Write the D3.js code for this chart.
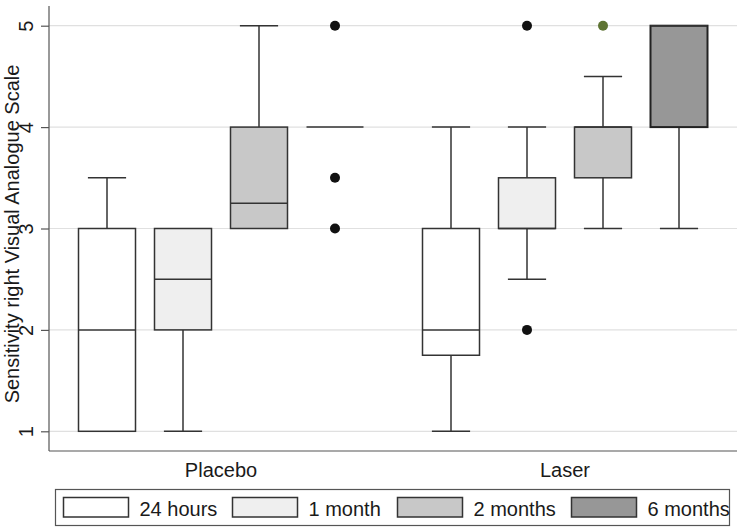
<!DOCTYPE html>
<html>
<head>
<meta charset="utf-8">
<script src="https://cdn.jsdelivr.net/npm/d3@7"></script>
<style>
  body { margin: 0; background: #fff; }
  text { font-family: Arial, "Liberation Sans", sans-serif; fill: #1a1a1a; }
</style>
</head>
<body>
<div id="chart"></div>
<script>
var groups = ["Placebo", "Laser"];
var times = ["24 hours", "1 month", "2 months", "6 months"];
var fills = ["#ffffff", "#efefef", "#c8c8c8", "#979797"];

// per group, per time: [lower whisker, q1, median, q3, upper whisker]
var placeboStats = [
  [1, 1, 2, 3, 3.5],
  [1, 2, 2.5, 3, 3],
  [3, 3, 3.25, 4, 5],
  [4, 4, 4, 4, 4]
];
var laserStats = [
  [1, 1.75, 2, 3, 4],
  [2.5, 3, 3, 3.5, 4],
  [3, 3.5, 4, 4, 4.5],
  [3, 4, 5, 5, 5]
];
var placeboOutliers = [[], [], [], [5, 3.5, 3]];
var laserOutliers = [[], [5, 2], [5], []];
var yTicks = [1, 2, 3, 4, 5];

var width = 737, height = 532;
var left = 49, right = 737, plotBottom = 451;
var fs = 20;

var svg = d3.select("#chart").append("svg")
    .attr("width", width)
    .attr("height", height);

var y = d3.scaleLinear().domain([1, 5]).range([431.3, 25.7]);
var xg = d3.scaleBand().domain(groups).range([left, right]);
var xt = d3.scaleBand().domain(times).range([-152, 152]).paddingInner(0.25).paddingOuter(0.125);

// gridlines
svg.append("g").selectAll("line")
    .data(yTicks)
  .enter().append("line")
    .attr("x1", left).attr("x2", right)
    .attr("y1", function(d) { return y(d); })
    .attr("y2", function(d) { return y(d); })
    .attr("stroke", "#e0e0e0")
    .attr("stroke-width", 1.2);

// y axis
var yAxis = svg.append("g")
    .attr("transform", "translate(" + left + ",0)")
    .call(d3.axisLeft(y).tickValues(yTicks).tickSize(8).tickFormat(d3.format("d")));
yAxis.select(".domain").remove();
yAxis.selectAll(".tick line").attr("stroke", "#555").attr("stroke-width", 1.2);
yAxis.selectAll(".tick text")
    .attr("font-size", fs)
    .attr("transform", "rotate(-90)")
    .attr("x", 0)
    .attr("y", -23)
    .attr("dy", "0.35em")
    .attr("text-anchor", "middle")
    .attr("font-family", "Arial, 'Liberation Sans', sans-serif")
    .attr("fill", "#1a1a1a");

svg.append("line")
    .attr("x1", left).attr("x2", left)
    .attr("y1", 6).attr("y2", plotBottom)
    .attr("stroke", "#555").attr("stroke-width", 1.2);
svg.append("line")
    .attr("x1", left).attr("x2", right)
    .attr("y1", plotBottom).attr("y2", plotBottom)
    .attr("stroke", "#555").attr("stroke-width", 1.2);

svg.append("text")
    .attr("transform", "translate(12,234)rotate(-90)")
    .attr("text-anchor", "middle")
    .attr("dy", "0.35em")
    .attr("font-size", fs)
    .text("Sensitivity right Visual Analogue Scale");

// boxes
var allStats = [placeboStats, laserStats];
var allOutliers = [placeboOutliers, laserOutliers];
var bw = xt.bandwidth();
var capW = bw * 0.67;

groups.forEach(function(g, gi) {
  var gc = xg(g) + xg.bandwidth() / 2;
  var gEl = svg.append("g");
  times.forEach(function(t, ti) {
    var s = allStats[gi][ti];
    var cx = gc + xt(t) + bw / 2;
    var b = gEl.append("g");
    var stroke = "#333";
    // whiskers
    if (s[4] > s[3]) {
      b.append("line").attr("x1", cx).attr("x2", cx).attr("y1", y(s[3])).attr("y2", y(s[4]))
        .attr("stroke", stroke).attr("stroke-width", 1.5);
    }
    if (s[0] < s[1]) {
      b.append("line").attr("x1", cx).attr("x2", cx).attr("y1", y(s[1])).attr("y2", y(s[0]))
        .attr("stroke", stroke).attr("stroke-width", 1.5);
    }
    if (s[4] > s[3]) {
      b.append("line").attr("x1", cx - capW / 2).attr("x2", cx + capW / 2)
        .attr("y1", y(s[4])).attr("y2", y(s[4]))
        .attr("stroke", stroke).attr("stroke-width", 1.5);
    }
    if (s[0] < s[1]) {
      b.append("line").attr("x1", cx - capW / 2).attr("x2", cx + capW / 2)
        .attr("y1", y(s[0])).attr("y2", y(s[0]))
        .attr("stroke", stroke).attr("stroke-width", 1.5);
    }
    if (s[3] > s[1]) {
      b.append("rect")
        .attr("x", cx - bw / 2).attr("width", bw)
        .attr("y", y(s[3])).attr("height", y(s[1]) - y(s[3]))
        .attr("fill", fills[ti])
        .attr("stroke", ti == 3 ? "#222" : stroke)
        .attr("stroke-width", ti == 3 ? 2 : 1.5);
    }
    b.append("line").attr("x1", cx - bw / 2).attr("x2", cx + bw / 2)
      .attr("y1", y(s[2])).attr("y2", y(s[2]))
      .attr("stroke", stroke).attr("stroke-width", 1.5);
    b.selectAll("circle")
        .data(allOutliers[gi][ti])
      .enter().append("circle")
        .attr("cx", cx)
        .attr("cy", function(d) { return y(d); })
        .attr("r", 5)
        .attr("fill", (gi == 1 && ti == 2) ? "#5e7433" : "#111");
  });
  svg.append("text")
      .attr("x", gc)
      .attr("y", 477)
      .attr("text-anchor", "middle")
      .attr("font-size", fs)
      .text(g);
});

// legend
var legend = svg.append("g");
legend.append("rect")
    .attr("x", 55.5).attr("y", 489.5)
    .attr("width", 674).attr("height", 36)
    .attr("fill", "#fff").attr("stroke", "#555").attr("stroke-width", 1.2);
var legX = [63.5, 232.5, 397.5, 571.5];
times.forEach(function(t, i) {
  legend.append("rect")
      .attr("x", legX[i]).attr("y", 497.5)
      .attr("width", 65).attr("height", 19.5)
      .attr("fill", fills[i]).attr("stroke", "#333").attr("stroke-width", 1.5);
  legend.append("text")
      .attr("x", legX[i] + 76)
      .attr("y", 516)
      .attr("font-size", fs)
      .text(t);
});
</script>
</body>
</html>
